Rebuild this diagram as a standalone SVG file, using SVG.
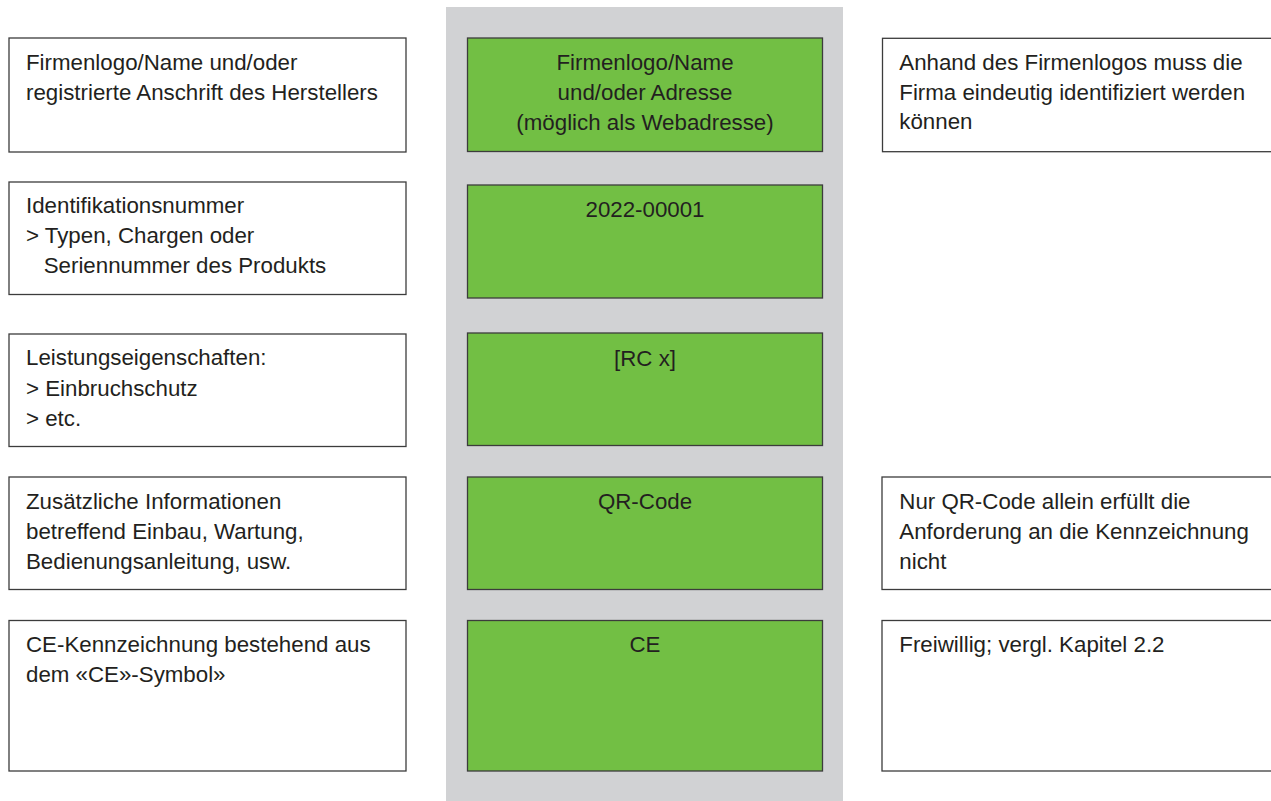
<svg xmlns="http://www.w3.org/2000/svg" width="1271" height="801" viewBox="0 0 1271 801">
<style>
.bx{fill:#ffffff;stroke:#3c3c3c;stroke-width:1.3}
.gr{fill:#72bf44;stroke:#3c3c3c;stroke-width:1.3}
text{font-family:"Liberation Sans",Arial,sans-serif;font-size:22.3px;fill:#231f20}
.c{text-anchor:middle}
</style>
<rect x="0" y="0" width="1271" height="801" fill="#ffffff"/>
<rect id="column" x="446" y="7" width="397" height="794" fill="#d1d2d4"/>
<g id="connectors"></g>
<g id="left1"><rect class="bx" x="9" y="38" width="397" height="114"/>
<text x="26" y="70">Firmenlogo/Name und/oder</text><text x="26" y="99.5">registrierte Anschrift des Herstellers</text></g>
<g id="left2"><rect class="bx" x="9" y="182" width="397" height="112.5"/>
<text x="26" y="213.3">Identifikationsnummer</text><text x="26" y="243.3">&gt; Typen, Chargen oder</text><text x="43.7" y="273.3">Seriennummer des Produkts</text></g>
<g id="left3"><rect class="bx" x="9" y="334" width="397" height="112.5"/>
<text x="26" y="365">Leistungseigenschaften:</text><text x="26" y="395.5">&gt; Einbruchschutz</text><text x="26" y="425.5">&gt; etc.</text></g>
<g id="left4"><rect class="bx" x="9" y="477" width="397" height="112.5"/>
<text x="26" y="508.5">Zusätzliche Informationen</text><text x="26" y="538.5">betreffend Einbau, Wartung,</text><text x="26" y="568.5">Bedienungsanleitung, usw.</text></g>
<g id="left5"><rect class="bx" x="9" y="620.5" width="397" height="150.5"/>
<text x="26" y="651.7">CE-Kennzeichnung bestehend aus</text><text x="26" y="681.7">dem «CE»-Symbol»</text></g>
<g id="green1"><rect class="gr" x="467.5" y="38" width="355" height="113.5"/>
<text class="c" x="645" y="70">Firmenlogo/Name</text><text class="c" x="645" y="100">und/oder Adresse</text><text class="c" x="645" y="129.5">(möglich als Webadresse)</text></g>
<g id="green2"><rect class="gr" x="467.5" y="185" width="355" height="113"/>
<text class="c" x="645" y="217">2022-00001</text></g>
<g id="green3"><rect class="gr" x="467.5" y="333" width="355" height="112.5"/>
<text class="c" x="645" y="366">[RC x]</text></g>
<g id="green4"><rect class="gr" x="467.5" y="477" width="355" height="112.5"/>
<text class="c" x="645" y="508.5">QR-Code</text></g>
<g id="green5"><rect class="gr" x="467.5" y="620.5" width="355" height="150.5"/>
<text class="c" x="645" y="651.7">CE</text></g>
<g id="right1"><rect class="bx" x="882.5" y="38.3" width="400" height="113.4"/>
<text x="899.3" y="70">Anhand des Firmenlogos muss die</text><text x="899.3" y="99.5">Firma eindeutig identifiziert werden</text><text x="899.3" y="129.3">können</text></g>
<g id="right4"><rect class="bx" x="882" y="477" width="400" height="112.5"/>
<text x="899.3" y="508.5">Nur QR-Code allein erfüllt die</text><text x="899.3" y="538.5">Anforderung an die Kennzeichnung</text><text x="899.3" y="568.5">nicht</text></g>
<g id="right5"><rect class="bx" x="882" y="620.5" width="400" height="150.5"/>
<text x="899.3" y="651.7">Freiwillig; vergl. Kapitel 2.2</text></g>
</svg>
